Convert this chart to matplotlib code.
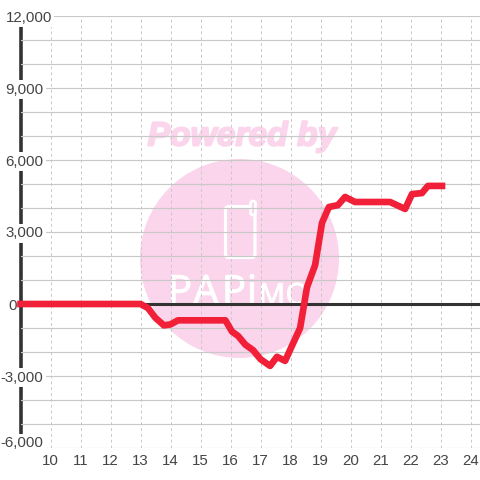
import matplotlib
matplotlib.use("Agg")
import matplotlib.pyplot as plt
from matplotlib.patches import Circle, FancyBboxPatch
from matplotlib.transforms import ScaledTranslation
import matplotlib.patheffects as pe

hours = [9.0, 13.0, 13.25, 13.5, 13.78, 14.0, 14.25, 15.83, 16.05, 16.25, 16.5, 16.75, 17.0, 17.32,
         17.55, 17.82, 18.32, 18.55, 18.82, 19.05, 19.28, 19.58, 19.82, 20.15, 21.32, 21.82,
         22.05, 22.38, 22.58, 23.05]
profit = [0, 0, -170, -580, -890, -850, -680, -680, -1150, -1330, -1700, -1920, -2300, -2580,
          -2200, -2370, -1000, 700, 1620, 3380, 4040, 4120, 4460, 4250, 4250, 3960,
          4580, 4620, 4920, 4920]
x_ticks = list(range(10, 25))
y_major = [-6000, -3000, 0, 3000, 6000, 9000, 12000]
y_minor = [-5000, -4000, -2000, -1000, 1000, 2000, 4000, 5000, 7000, 8000, 10000, 11000]
y_labels = ["-6,000", "-3,000", "0", "3,000", "6,000", "9,000", "12,000"]

plt.rcParams["font.family"] = ["Liberation Sans", "DejaVu Sans"]
PINK = "#fbd5ec"
GRID = "#c8c8c8"
DARK = "#333333"
TXT = "#444444"

fig = plt.figure(figsize=(4.8, 4.8), dpi=100, facecolor="white")

bg = fig.add_axes([0, 0, 1, 1], zorder=-1)
bg.set_xlim(0, 480)
bg.set_ylim(480, 0)
bg.axis("off")
bg.add_patch(Circle((239.5, 258.5), 99.5, fc=PINK, ec="none"))
bg.text(242, 137, "Powered by", color=PINK, fontsize=24.2, fontweight="bold",
        fontstyle="italic", ha="center", va="center",
        path_effects=[pe.withStroke(linewidth=1.4, foreground=PINK)])
bg.add_patch(FancyBboxPatch((225.5, 206.5), 29.5, 51, boxstyle="round,pad=0,rounding_size=3",
                            fc="none", ec="white", lw=2.3))
bg.add_patch(FancyBboxPatch((250.5, 201), 5, 14, boxstyle="round,pad=0,rounding_size=2.5",
                            fc=PINK, ec="white", lw=2.0))
wm_letters = ["P", "A", "P", "i", "M", "O"]
wm_x = [180, 206, 234, 252, 272, 297]
wm_size = [29, 29, 29, 29, 21, 21]
for lx, letter, sz in zip(wm_x, wm_letters, wm_size):
    bg.text(lx, 304, letter, color="white", fontsize=sz, ha="center", va="baseline",
            family=["Liberation Sans Narrow", "Open Sans"],
            path_effects=[pe.withStroke(linewidth=0.7, foreground="white")])

ax = fig.add_axes([20.5 / 480, (480 - 448) / 480, (480 - 20.5) / 480, 432 / 480], zorder=1)
ax.patch.set_alpha(0)
ax.set_xlim(9, 9 + (480 - 20.5) / 30)
ax.set_ylim(-6000, 12000)
for s in ["top", "right", "bottom"]:
    ax.spines[s].set_visible(False)
ax.spines["left"].set_linewidth(2.6)
ax.spines["left"].set_color(DARK)
ax.spines["left"].set_zorder(0.3)
ax.set_axisbelow(True)

ax.set_xticks(x_ticks)
ax.set_yticks(y_major)
ax.set_yticks(y_minor, minor=True)
ax.set_yticklabels(y_labels)
ax.grid(True, axis="y", which="both", color=GRID, lw=0.85)
ax.grid(True, axis="x", which="major", color=GRID, lw=0.7, ls=(0, (3, 3)))
ax.tick_params(axis="both", which="both", length=0, labelsize=10.8, labelcolor=TXT)
ax.tick_params(axis="x", pad=4.5)
ax.tick_params(axis="y", pad=-16.5)

ax.axhline(0, color=DARK, lw=2.2, zorder=1.5)
ax.plot(hours, profit, color="#f12038", lw=4.8, zorder=5, clip_on=False,
        solid_capstyle="projecting", solid_joinstyle="round")

for lab in ax.get_yticklabels():
    lab.set_bbox(dict(fc="white", ec="none", pad=1.5))
    if lab.get_text() == "12,000":
        lab.set_transform(lab.get_transform() + ScaledTranslation(8.5 / 100, 0, fig.dpi_scale_trans))
    if lab.get_text() == "0":
        lab.set_transform(lab.get_transform() + ScaledTranslation(-27 / 100, 0, fig.dpi_scale_trans))
    if lab.get_text() == "-6,000":
        lab.set_transform(lab.get_transform() + ScaledTranslation(0, 6.5 / 100, fig.dpi_scale_trans))

fig.savefig("out.png", dpi=100)
